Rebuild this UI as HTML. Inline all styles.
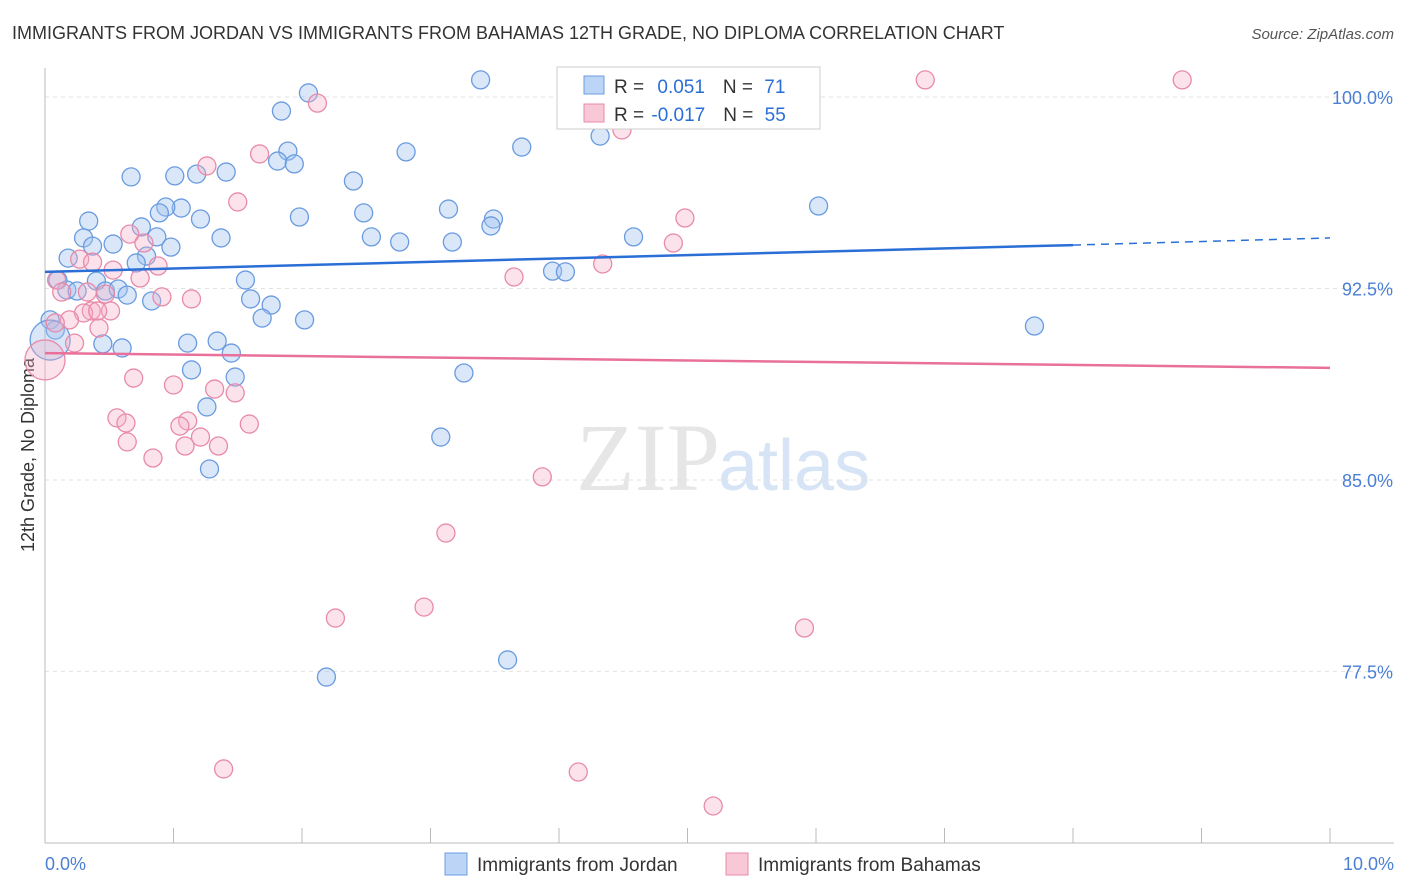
<!DOCTYPE html>
<html><head><meta charset="utf-8"><style>
body{margin:0;background:#fff;font-family:"Liberation Sans",sans-serif;}
#wrap{position:relative;width:1406px;height:892px;overflow:hidden;}
</style></head><body>
<div id="wrap">
<svg id="svg" width="1406" height="892" xmlns="http://www.w3.org/2000/svg">
<text x="12" y="39" font-size="18" fill="#333">IMMIGRANTS FROM JORDAN VS IMMIGRANTS FROM BAHAMAS 12TH GRADE, NO DIPLOMA CORRELATION CHART</text>
<text x="1394" y="39" font-size="15" fill="#555" font-style="italic" text-anchor="end">Source: ZipAtlas.com</text>
<text x="720" y="490" font-size="96" fill="#e6e6e6" text-anchor="end" font-family="Liberation Serif,serif">ZIP</text>
<text x="718" y="490" font-size="72" fill="#d6e4f5">atlas</text>
<text transform="translate(34,455) rotate(-90)" font-size="18" fill="#333" text-anchor="middle">12th Grade, No Diploma</text>
<g id="grid"></g><g id="pts"></g><g id="lines"></g>
<g>
<rect x="557" y="67" width="263" height="62" fill="#fff" stroke="#ccc"/>
<rect x="584" y="76" width="20" height="18" fill="#bcd4f5" stroke="#6a9be0"/>
<rect x="584" y="104" width="20" height="18" fill="#f9c8d6" stroke="#e88aaa"/>
<text x="614" y="93" font-size="19" fill="#333">R = <tspan fill="#2a6fd6" dx="8">0.051</tspan><tspan dx="18">N = </tspan><tspan fill="#2a6fd6" dx="6">71</tspan></text>
<text x="614" y="121" font-size="19" fill="#333">R = <tspan fill="#2a6fd6" dx="2">-0.017</tspan><tspan dx="18">N = </tspan><tspan fill="#2a6fd6" dx="6">55</tspan></text>
</g>
<g>
<rect x="445" y="853" width="22" height="22" fill="#bcd4f5" stroke="#6a9be0"/>
<text x="477" y="871" font-size="19" fill="#333">Immigrants from Jordan</text>
<rect x="726" y="853" width="22" height="22" fill="#f9c8d6" stroke="#e88aaa"/>
<text x="758" y="871" font-size="19" fill="#333">Immigrants from Bahamas</text>
</g>
</svg>
</div>
<script>
const yTicks=[100,92.5,85,77.5];
const yTickLabels=["100.0%","92.5%","85.0%","77.5%"];
const xTickLabels=["0.0%","10.0%"];
const blueX=[3.39,2.05,1.84,4.32,1.89,2.81,3.71,1.81,1.94,0.67,1.01,1.18,1.41,2.40,1.06,0.94,0.89,1.98,2.48,3.14,3.49,3.47,0.34,1.21,0.75,6.02,0.30,0.87,1.37,2.54,2.76,3.17,4.58,0.37,0.53,0.98,0.79,0.18,0.71,3.95,4.05,0.10,0.40,1.56,0.17,0.25,0.47,0.57,0.64,1.60,1.76,0.83,2.02,1.69,7.70,0.04,0.08,0.04,0.45,0.60,1.11,1.34,1.45,3.26,1.14,1.48,1.26,3.08,1.28,3.60,2.19];
const blueY=[100.67,100.16,99.45,98.47,97.88,97.85,98.04,97.49,97.38,96.87,96.91,96.98,97.06,96.71,95.65,95.69,95.46,95.30,95.46,95.61,95.22,94.95,95.14,95.22,94.91,95.73,94.48,94.52,94.48,94.52,94.32,94.32,94.52,94.16,94.24,94.12,93.77,93.69,93.50,93.18,93.15,92.83,92.79,92.83,92.44,92.40,92.40,92.48,92.24,92.09,91.85,92.01,91.27,91.34,91.03,91.27,90.87,90.48,90.33,90.17,90.36,90.44,89.97,89.19,89.31,89.03,87.86,86.68,85.43,77.95,77.28];
const pinkX=[6.85,8.85,2.12,4.49,1.26,1.67,1.50,4.98,0.66,0.77,4.89,0.53,0.88,0.74,3.65,4.34,0.27,0.09,0.13,0.33,0.47,0.91,1.14,0.51,0.36,0.30,0.19,0.42,0.08,0.23,0.0,0.69,1.00,1.32,1.48,0.56,0.63,1.11,1.59,1.05,1.21,0.64,1.09,1.35,0.84,3.87,3.12,2.95,2.26,5.91,1.39,4.15,5.20,0.41,0.37];
const pinkY=[100.67,100.67,99.76,98.71,97.30,97.77,95.89,95.26,94.63,94.28,94.28,93.22,93.38,92.91,92.95,93.46,93.65,92.83,92.36,92.36,92.28,92.17,92.09,91.62,91.62,91.54,91.27,90.95,91.15,90.36,89.70,88.99,88.72,88.56,88.41,87.43,87.23,87.31,87.19,87.11,86.68,86.49,86.33,86.33,85.86,85.12,82.92,80.02,79.59,79.20,73.68,73.56,72.23,91.62,93.53];
const blueTrend=[93.15,94.20,94.48]; // at x=0, 8, 10
const pinkTrend=[89.97,89.39]; // at x=0, 10
const NS="http://www.w3.org/2000/svg";
const X=v=>45+v*128.5;
const Y=v=>97+(100-v)*25.53;
function mk(t,a,p){const e=document.createElementNS(NS,t);for(const k in a)e.setAttribute(k,a[k]);p.appendChild(e);return e;}
const grid=document.getElementById('grid');
yTicks.forEach((t,i)=>{
 const l=mk('line',{x1:45,x2:1394,y1:Y(t),y2:Y(t),stroke:'#e2e2e2','stroke-dasharray':'4,4'},grid);
 
 
 const tx=mk('text',{x:1393,y:Y(t)+7,'font-size':18,fill:'#4a7fd4','text-anchor':'end'},grid);
 tx.textContent=yTickLabels[i];
 
 
});
const ax=mk('line',{x1:45,x2:45,y1:68,y2:843,stroke:'#bbb'},grid);


const bx=mk('line',{x1:45,x2:1394,y1:843,y2:843,stroke:'#bbb'},grid);


for(let i=0;i<=10;i++){
 const t=mk('line',{x1:X(i),x2:X(i),y1:828,y2:843,stroke:'#bbb'},grid);
 
 
}
[[0,'start',45],[10,'end',1394]].forEach((d,i)=>{
 const t=mk('text',{x:d[2],y:870,'font-size':18,fill:'#4a7fd4','text-anchor':d[1]},grid);
 t.textContent=xTickLabels[i];
 
 
});
const pts=document.getElementById('pts');
function draw(xs,ys,fill,stroke,name){
 xs.forEach((x,i)=>{
  const big=(x<0.05&&ys[i]<90.6&&ys[i]>89.5);
  const c=mk('circle',{cx:X(x),cy:Y(ys[i]),r:big?20:9,fill:fill,stroke:stroke,'stroke-width':1.3},pts);
  
  
 });
}
draw(blueX,blueY,'rgba(160,196,240,0.4)','#6a9be0','point-jordan');
draw(pinkX,pinkY,'rgba(245,175,198,0.35)','#e88aaa','point-bahamas');
const lines=document.getElementById('lines');
const b1=mk('line',{x1:X(0),y1:Y(blueTrend[0]),x2:X(8),y2:Y(blueTrend[1]),stroke:'#2a6fd6','stroke-width':2.5},lines);


const b2=mk('line',{x1:X(8),y1:Y(blueTrend[1]),x2:X(10),y2:Y(blueTrend[2]),stroke:'#2a6fd6','stroke-width':1.5,'stroke-dasharray':'8,6'},lines);


const p1=mk('line',{x1:X(0),y1:Y(pinkTrend[0]),x2:X(10),y2:Y(pinkTrend[1]),stroke:'#e8709a','stroke-width':2.5},lines);


</script>
</body></html>
